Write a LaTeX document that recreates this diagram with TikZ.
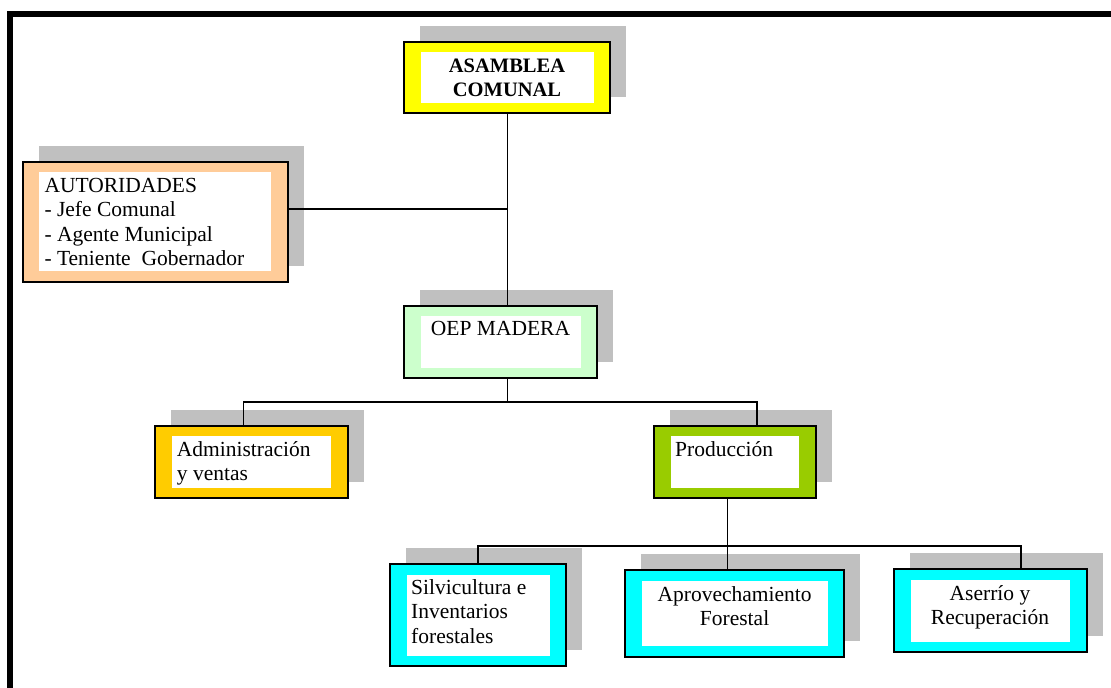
\documentclass[tikz,border=0pt]{standalone}
\usepackage{fontspec}
\setmainfont{Liberation Serif}
\definecolor{shadowgray}{HTML}{C0C0C0}
\definecolor{cYellow}{HTML}{FFFF00}
\definecolor{cPeach}{HTML}{FFCC99}
\definecolor{cMint}{HTML}{CCFFCC}
\definecolor{cGold}{HTML}{FFCC00}
\definecolor{cLime}{HTML}{99CC00}
\definecolor{cCyan}{HTML}{00FFFF}
\newcommand\orgbox[6]{%
  \fill[shadowgray] ({#2+16},{#3-16}) rectangle ({#4+16},{#5-16});
  \node[boxstyle, fill=#6, minimum width={#4-#2}, minimum height={#5-#3}]
    (#1) at ({(#2+#4)/2},{(#3+#5)/2}) {};
  \fill[white] ({#2+16.5},{#3+10.5}) rectangle ({#4-16.5},{#5-10.5});
}
\tikzset{
  boxstyle/.style={draw=black, line width=2.3pt, inner sep=0pt, rectangle},
  conn/.style={draw=black, line width=1.6pt},
  txt/.style={inner sep=0pt, font=\fontsize{21.5}{24.4}\selectfont},
  txtb/.style={inner sep=0pt, font=\fontsize{20.5}{23.8}\selectfont\bfseries},
}
\newcommand\fs{\rule{0pt}{17pt}}
\begin{document}
\begin{tikzpicture}[x=1pt,y=-1pt]
\useasboundingbox (0,0) rectangle (1111,688);
\fill[white] (0,0) rectangle (1111,688);
% frame
\draw[line width=6pt] (10.3,688) -- (10.3,14.2) -- (1111,14.2);

% boxes
\orgbox{asamblea}{404}{41.7}{610}{113}{cYellow}
\orgbox{autoridades}{22.7}{161.7}{287.7}{281.7}{cPeach}
\orgbox{oep}{404}{305.7}{597}{378}{cMint}
\orgbox{admin}{155}{425.7}{347.7}{498}{cGold}
\orgbox{prod}{654}{425.7}{815.7}{498}{cLime}
\orgbox{silv}{390}{564}{566}{666}{cCyan}
\orgbox{aprov}{625}{570}{844.3}{656.7}{cCyan}
\orgbox{aserr}{894}{569.3}{1086.7}{652.3}{cCyan}

% connector junctions
\coordinate (jA) at (507.3,209);
\coordinate (j1) at (507.3,401.7);
\coordinate (j2) at (727.5,545.7);

\draw[conn] (asamblea.south -| jA) -- (oep.north -| jA);
\draw[conn] (autoridades.east |- jA) -- (jA);
\draw[conn] (oep.south -| j1) -- (j1);
\draw[conn] (admin.north -| 243.3,0) -- (243.3,401.7) -- (756.7,401.7) -- (prod.north -| 756.7,0);
\draw[conn] (prod.south -| j2) -- (j2);
\draw[conn] (silv.north -| 477.7,0) -- (477.7,545.7) -- (1020.7,545.7) -- (aserr.north -| 1020.7,0);
\draw[conn] (j2) -- (aprov.north -| j2);

% texts
\node[txtb, anchor=north, align=center] (tA) at (507,72.3-17) {\fs ASAMBLEA\\COMUNAL};
\node[txt, anchor=north west, align=left] (tB) at (44.3,192.3-17) {\fs AUTORIDADES\\- Jefe Comunal\\- Agente Municipal\\- Teniente\ \ Gobernador};
\node[txt, anchor=north, align=center] (tC) at (500.5,335.7-17) {\fs OEP MADERA};
\node[txt, anchor=north west, align=left] (tD) at (176.7,456-17) {\fs Administración\\y ventas};
\node[txt, anchor=north west, align=left] (tE) at (675,456-17) {\fs Producción};
\node[txt, anchor=north west, align=left] (tF) at (411,594.3-17) {\fs Silvicultura e\\Inventarios\\forestales};
\node[txt, anchor=north, align=center] (tG) at (734.6,601-17) {\fs Aprovechamiento\\Forestal};
\node[txt, anchor=north, align=center] (tH) at (990,600-17) {\fs Aserrío y\\Recuperación};
\end{tikzpicture}
\end{document}
